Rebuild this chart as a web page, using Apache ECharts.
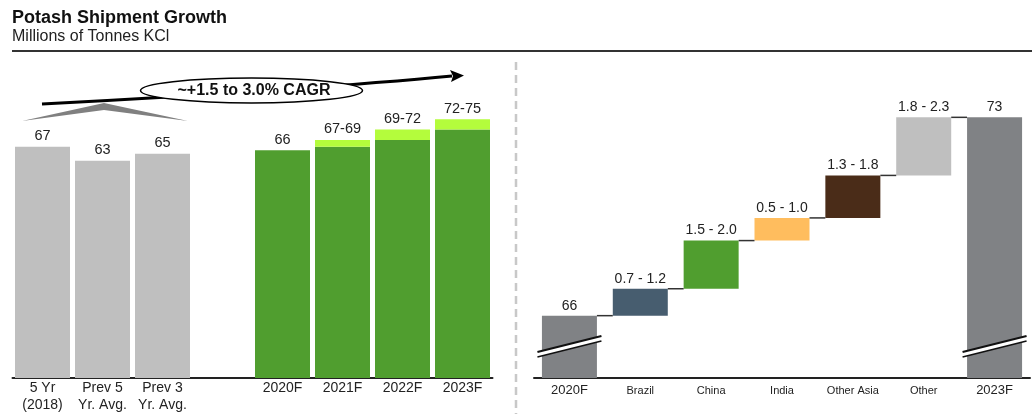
<!DOCTYPE html>
<html><head><meta charset="utf-8">
<script src="https://cdn.jsdelivr.net/npm/echarts@6/dist/echarts.min.js"></script>
<style>html,body{margin:0;padding:0;background:#fff}#c{width:1032px;height:414px}</style>
</head><body><div id="c"></div>
<script>
// ---- Data: left panel ----
const leftCategories = ['5 Yr\n(2018)', 'Prev 5\nYr. Avg.', 'Prev 3\nYr. Avg.', '', '2020F', '2021F', '2022F', '2023F'];
const leftLow = [67, 63, 65, null, 66, 67, 69, 72];
const leftHigh = [null, null, null, null, null, 69, 72, 75];
const leftLabels = ['67', '63', '65', '', '66', '67-69', '69-72', '72-75'];
const leftIsHistory = [true, true, true, false, false, false, false, false];

// ---- Data: right panel (waterfall) ----
const wfCategories = ['2020F', 'Brazil', 'China', 'India', 'Other Asia', 'Other', '2023F'];
const wfValues = [66, 0.95, 1.7, 0.8, 1.5, 2.05, 73];
const wfLabels = ['66', '0.7 - 1.2', '1.5 - 2.0', '0.5 - 1.0', '1.3 - 1.8', '1.8 - 2.3', '73'];
const wfIsTotal = [true, false, false, false, false, false, true];

// ---- Styles ----
const FONT = '"Liberation Sans", Arial, sans-serif';
const GRAY = '#bfbfbf', GREEN = '#509e2f', LIGHT = '#b4fc3c';
const wfColors = ['#808285', '#475d6f', '#509e2f', '#ffbd5e', '#4a2c18', '#bfbfbf', '#808285'];
const WF_MIN = 63.8, WF_MAX = 74;

// derived waterfall positions
const wfBase = [], wfTop = [];
let cum = 0;
wfValues.forEach((v, i) => {
  if (wfIsTotal[i]) { wfBase.push(0); cum = v; }
  else { wfBase.push(+cum.toFixed(3)); cum += v; }
  wfTop.push(+cum.toFixed(3));
});
const connectorData = wfTop.slice(0, -1).map((v, i) => [i, v]);
const breakData = wfIsTotal.map((t, i) => t ? [i, WF_MIN] : null).filter(Boolean);

const chart = echarts.init(document.getElementById('c'), null, {renderer: 'canvas'});

const labelStyle = {color: '#222', fontFamily: FONT};

chart.setOption({
  animation: false,
  textStyle: {fontFamily: FONT},
  grid: [
    {left: 12.5, width: 480, top: 102, height: 276},
    {left: 534, width: 496, top: 89, height: 289}
  ],
  xAxis: [
    {type: 'category', gridIndex: 0, data: leftCategories,
     axisLine: {lineStyle: {color: '#222', width: 2}}, axisTick: {show: false},
     axisLabel: {color: '#222', fontSize: 14, lineHeight: 17, margin: 1.5, fontFamily: FONT, interval: 0}},
    {type: 'category', gridIndex: 1, data: wfCategories,
     axisLine: {lineStyle: {color: '#222', width: 2}}, axisTick: {show: false},
     axisLabel: {color: '#222', margin: 5, interval: 0, fontFamily: FONT,
       formatter: (v, i) => wfIsTotal[i] ? '{big|' + v + '}' : '{small|' + v + '}',
       rich: {big: {fontSize: 13, lineHeight: 15, fontFamily: FONT, color: '#222'},
              small: {fontSize: 11, lineHeight: 15, fontFamily: FONT, color: '#222'}}}}
  ],
  yAxis: [
    {type: 'value', gridIndex: 0, min: 0, max: 80, show: false},
    {type: 'value', gridIndex: 1, min: WF_MIN, max: WF_MAX, show: false}
  ],
  series: [
    {type: 'bar', name: 'low', xAxisIndex: 0, yAxisIndex: 0, stack: 'L', barWidth: 55,
     data: leftLow.map((v, i) => ({value: v == null ? '-' : v, itemStyle: {color: leftIsHistory[i] ? GRAY : GREEN}})),
     label: {show: true, position: 'top', distance: 3, fontSize: 14.5, ...labelStyle,
       formatter: p => leftHigh[p.dataIndex] == null ? leftLabels[p.dataIndex] : ''}},
    {type: 'bar', name: 'range', xAxisIndex: 0, yAxisIndex: 0, stack: 'L', barWidth: 55,
     data: leftHigh.map((h, i) => h == null ? '-' : +(h - leftLow[i]).toFixed(2)),
     itemStyle: {color: LIGHT},
     label: {show: true, position: 'top', distance: 3, fontSize: 14.5, ...labelStyle,
       formatter: p => leftLabels[p.dataIndex]}},
    {type: 'bar', name: 'wfBase', xAxisIndex: 1, yAxisIndex: 1, stack: 'W', barWidth: 55,
     data: wfBase, itemStyle: {color: 'rgba(0,0,0,0)'}, silent: true},
    {type: 'bar', name: 'wf', xAxisIndex: 1, yAxisIndex: 1, stack: 'W', barWidth: 55,
     data: wfValues.map((v, i) => ({value: v, itemStyle: {color: wfColors[i]}})),
     label: {show: true, position: 'top', distance: 3, fontSize: 14, ...labelStyle,
       formatter: p => wfLabels[p.dataIndex]}},
    {type: 'custom', name: 'connectors', xAxisIndex: 1, yAxisIndex: 1, data: connectorData, z: 3,
     renderItem: (params, api) => {
       const i = api.value(0), v = api.value(1);
       const a = api.coord([i, v]), b = api.coord([i + 1, v]);
       return {type: 'line', shape: {x1: a[0] + 27.5, y1: a[1], x2: b[0] - 27.5, y2: b[1]},
               style: {stroke: '#333', lineWidth: 1.5}};
     }},
    {type: 'custom', name: 'breaks', xAxisIndex: 1, yAxisIndex: 1, data: breakData, z: 4, clip: false,
     renderItem: (params, api) => {
       const p = api.coord([api.value(0), api.value(1)]);
       const cx = p[0], cy = p[1] - 31.5;
       return {type: 'group', children: [
         {type: 'polygon', shape: {points: [[cx - 32, cy + 5.5], [cx + 32, cy - 10.5], [cx + 32, cy - 5.5], [cx - 32, cy + 10.5]]},
          style: {fill: '#fff'}},
         {type: 'line', shape: {x1: cx - 32, y1: cy + 5.5, x2: cx + 32, y2: cy - 10.5}, style: {stroke: '#111', lineWidth: 2}},
         {type: 'line', shape: {x1: cx - 32, y1: cy + 10.5, x2: cx + 32, y2: cy - 5.5}, style: {stroke: '#111', lineWidth: 1.5}}
       ]};
     }}
  ],
  graphic: [
    {type: 'text', left: 12, top: 9, style: {text: 'Potash Shipment Growth', font: 'bold 18px ' + FONT, fill: '#111'}},
    {type: 'text', left: 12, top: 29, style: {text: 'Millions of Tonnes KCl', font: '16px ' + FONT, fill: '#222'}},
    {type: 'line', shape: {x1: 12, y1: 51, x2: 1032, y2: 51}, style: {stroke: '#333', lineWidth: 2}},
    {type: 'line', shape: {x1: 516, y1: 62, x2: 516, y2: 414}, style: {stroke: '#c8c8c8', lineWidth: 2.5, lineDash: [8, 5]}},
    {type: 'polygon', shape: {points: [[22, 121], [104, 103], [188, 121], [104, 110]]}, style: {fill: '#808080'}},
    {type: 'bezierCurve', z: 100, shape: {x1: 42, y1: 104, cpx1: 200, cpy1: 96, cpx2: 370, cpy2: 84, x2: 452, y2: 76},
     style: {stroke: '#000', lineWidth: 3, fill: null}},
    {type: 'polygon', z: 100, shape: {points: [[450, 70], [464, 75.5], [451, 82], [453, 76]]}, style: {fill: '#000'}},
    {type: 'ellipse', z: 101, shape: {cx: 251.5, cy: 90.5, rx: 111, ry: 12.5}, style: {fill: '#fff', stroke: '#000', lineWidth: 1.5}},
    {type: 'text', z: 102, x: 254, y: 91, style: {text: '~+1.5 to 3.0% CAGR', font: 'bold 16px ' + FONT, fill: '#111', align: 'center', verticalAlign: 'middle'}}
  ]
});
</script>
</body></html>
